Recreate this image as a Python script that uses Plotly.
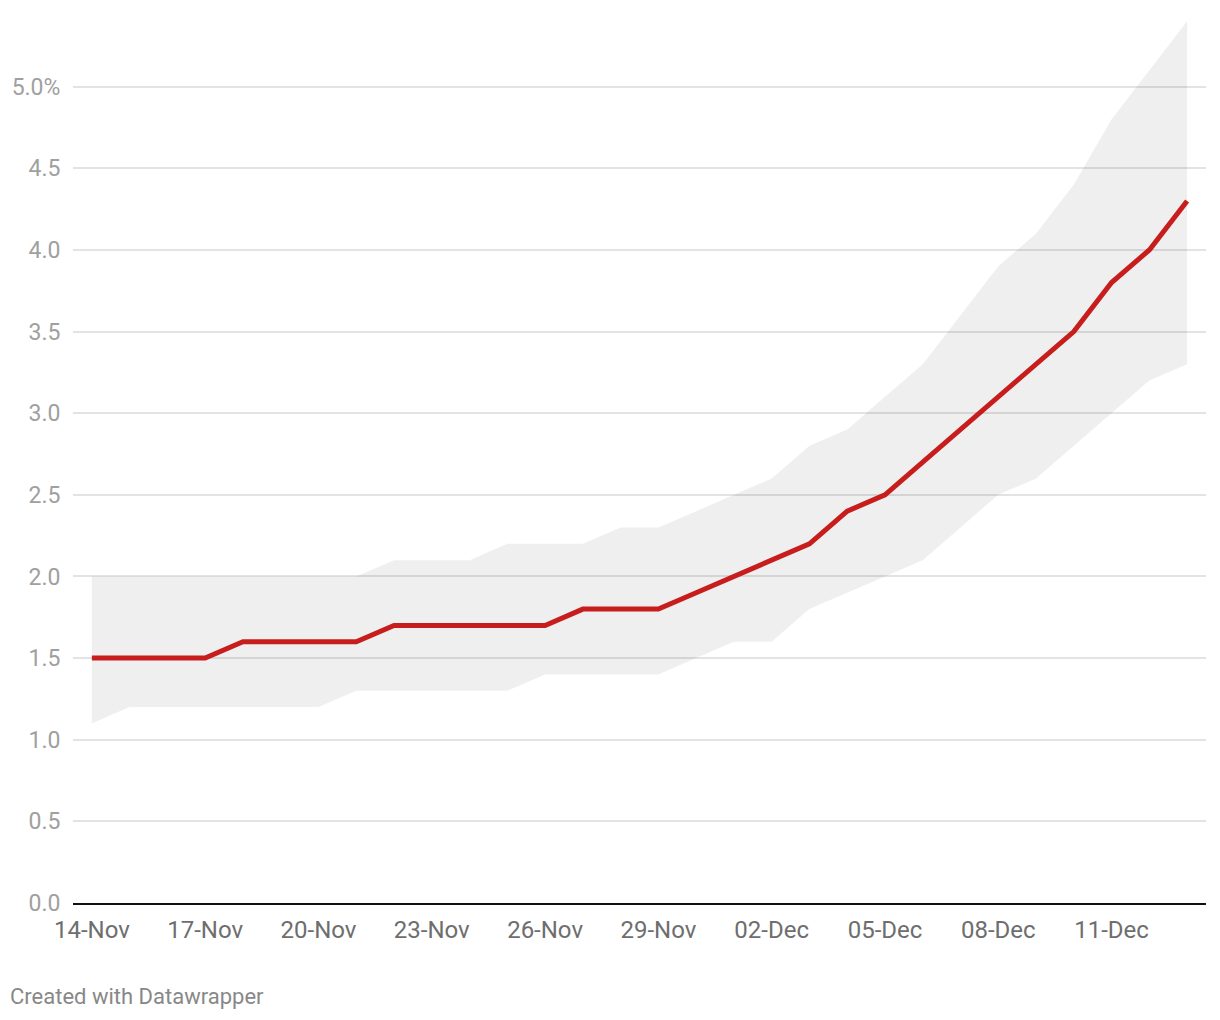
import plotly.graph_objects as go
import pandas as pd

dates = pd.date_range("2020-11-14", "2020-12-13", freq="D")
central = [1.5, 1.5, 1.5, 1.5, 1.6, 1.6, 1.6, 1.6, 1.7, 1.7,
           1.7, 1.7, 1.7, 1.8, 1.8, 1.8, 1.9, 2.0, 2.1, 2.2,
           2.4, 2.5, 2.7, 2.9, 3.1, 3.3, 3.5, 3.8, 4.0, 4.3]
upper = [2.0, 2.0, 2.0, 2.0, 2.0, 2.0, 2.0, 2.0, 2.1, 2.1,
         2.1, 2.2, 2.2, 2.2, 2.3, 2.3, 2.4, 2.5, 2.6, 2.8,
         2.9, 3.1, 3.3, 3.6, 3.9, 4.1, 4.4, 4.8, 5.1, 5.4]
lower = [1.1, 1.2, 1.2, 1.2, 1.2, 1.2, 1.2, 1.3, 1.3, 1.3,
         1.3, 1.3, 1.4, 1.4, 1.4, 1.4, 1.5, 1.6, 1.6, 1.8,
         1.9, 2.0, 2.1, 2.3, 2.5, 2.6, 2.8, 3.0, 3.2, 3.3]
y_ticks = [0, 0.5, 1.0, 1.5, 2.0, 2.5, 3.0, 3.5, 4.0, 4.5, 5.0]
y_labels = ["0.0", "0.5", "1.0", "1.5", "2.0", "2.5", "3.0", "3.5", "4.0", "4.5", "5.0%"]

FONT = "Roboto"

fig = go.Figure()
fig.add_trace(go.Scatter(x=dates, y=lower, mode="lines", line=dict(width=0),
                         hoverinfo="skip", showlegend=False))
fig.add_trace(go.Scatter(x=dates, y=upper, mode="lines", line=dict(width=0),
                         fill="tonexty", fillcolor="rgba(0,0,0,0.063)",
                         hoverinfo="skip", showlegend=False))
fig.add_trace(go.Scatter(x=dates, y=central, mode="lines",
                         line=dict(color="#c71e1d", width=5),
                         showlegend=False))

fig.update_layout(
    width=1220, height=1020,
    margin=dict(l=73, r=14, t=5, b=117),
    paper_bgcolor="white", plot_bgcolor="white",
    font=dict(family=FONT),
    xaxis=dict(
        type="date",
        range=["2020-11-13 12:00", "2020-12-13 12:00"],
        tick0="2020-11-14", dtick=3 * 86400000,
        tickformat="%d-%b",
        showgrid=False, zeroline=False,
        showline=True, linecolor="#111111", linewidth=2,
        ticks="outside", ticklen=4, tickcolor="rgba(0,0,0,0)",
        tickfont=dict(family=FONT, size=24, color="#6e6e6e"),
    ),
    yaxis=dict(
        range=[0, 5.5],
        tickvals=y_ticks, ticktext=y_labels,
        showgrid=True, gridcolor="#e3e3e3", gridwidth=1.5,
        zeroline=False, showline=False,
        ticks="outside", ticklen=7, tickcolor="rgba(0,0,0,0)",
        tickfont=dict(family=FONT, size=23, color="#a0a0a0"),
    ),
    annotations=[dict(
        text="Created with Datawrapper", xref="paper", yref="paper",
        x=(8 - 73) / 1133, y=-(997 - 903) / 898, xanchor="left", yanchor="middle",
        showarrow=False, font=dict(family=FONT, size=22, color="#888888"),
    )],
)

fig.write_html("out.html")
